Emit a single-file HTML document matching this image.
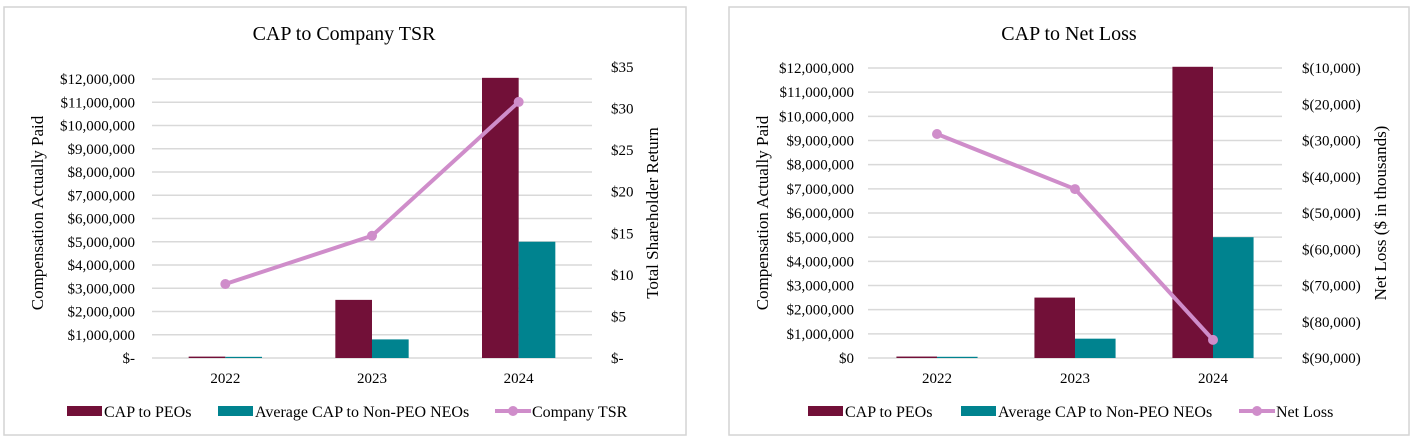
<!DOCTYPE html>
<html><head><meta charset="utf-8"><style>
html,body{margin:0;padding:0;background:#fff;}
svg{display:block;font-family:"Liberation Serif",serif;}
</style></head><body>
<svg id="root" width="1418" height="443" viewBox="0 0 1418 443"></svg>
<script>
const categories = ["2022","2023","2024"];
const peoValues = [60000, 2500000, 12050000];
const neoValues = [50000, 800000, 5000000];
const tsrValues = [8.9, 14.7, 30.8];
const netLossValues = [-28200, -43400, -85000];
const leftTicks = [0,1,2,3,4,5,6,7,8,9,10,11,12].map(v=>v*1000000);
const leftTickLabelsA = ["$-","$1,000,000","$2,000,000","$3,000,000","$4,000,000","$5,000,000","$6,000,000","$7,000,000","$8,000,000","$9,000,000","$10,000,000","$11,000,000","$12,000,000"];
const leftTickLabelsB = ["$0","$1,000,000","$2,000,000","$3,000,000","$4,000,000","$5,000,000","$6,000,000","$7,000,000","$8,000,000","$9,000,000","$10,000,000","$11,000,000","$12,000,000"];
const tsrTicks = [0,5,10,15,20,25,30,35];
const tsrTickLabels = ["$-","$5","$10","$15","$20","$25","$30","$35"];
const lossTicks = [-90000,-80000,-70000,-60000,-50000,-40000,-30000,-20000,-10000];
const lossTickLabels = ["$(90,000)","$(80,000)","$(70,000)","$(60,000)","$(50,000)","$(40,000)","$(30,000)","$(20,000)","$(10,000)"];

const NS="http://www.w3.org/2000/svg";
const root=document.getElementById('root');
function mk(tag,attrs,parent,text){const e=document.createElementNS(NS,tag);for(const k in attrs)e.setAttribute(k,attrs[k]);if(text!==undefined)e.textContent=text;(parent||root).appendChild(e);return e;}

const MAROON="#721038", TEAL="#00838f", LINE="#cf8dca";

function drawChart(cfg){
  const g=mk('g',{});
  
  
  const b=mk('rect',{x:cfg.bx,y:7,width:cfg.bw,height:428,fill:'#fff',stroke:'#d4d4d4','stroke-width':1.5},g);
  
  const t=mk('text',{x:cfg.titleX,y:40,'text-anchor':'middle','font-size':20,fill:'#000'},g,cfg.title);
  
  const y0=358, yTop=cfg.yTop;
  const yL=v=>y0-(v/12000000)*(y0-yTop);
  const yR=cfg.yR;
  const catW=(cfg.px1-cfg.px0)/categories.length;
  const xC=i=>cfg.px0+catW*(i+0.5);
  leftTicks.forEach((v,i)=>{
    const l=mk('line',{x1:cfg.px0,x2:cfg.px1,y1:yL(v),y2:yL(v),stroke:'#d9d9d9','stroke-width':1.5},g);
    
    const tx=mk('text',{x:cfg.lx,y:yL(v)+5,'text-anchor':'end','font-size':15,fill:'#000'},g,cfg.leftLabels[i]);
    
  });
  cfg.rTicks.forEach((v,i)=>{
    const tx=mk('text',{x:cfg.rx,y:yR(v)+5,'text-anchor':'start','font-size':15,fill:'#000'},g,cfg.rLabels[i]);
    
  });
  const bw=catW*cfg.barFrac;
  categories.forEach((c,i)=>{
    const p=mk('rect',{x:xC(i)-bw,y:yL(peoValues[i]),width:bw,height:y0-yL(peoValues[i]),fill:MAROON},g);
    
    const n=mk('rect',{x:xC(i),y:yL(neoValues[i]),width:bw,height:y0-yL(neoValues[i]),fill:TEAL},g);
    
    const tx=mk('text',{x:xC(i),y:383,'text-anchor':'middle','font-size':15,fill:'#000'},g,c);
    
  });
  const pts=cfg.line.map((v,i)=>xC(i)+','+yR(v)).join(' ');
  const pl=mk('polyline',{points:pts,fill:'none',stroke:LINE,'stroke-width':4,'stroke-linejoin':'round'},g);
  
  cfg.line.forEach((v,i)=>{
    const c=mk('circle',{cx:xC(i),cy:yR(v),r:5,fill:LINE},g);
    
  });
  const lt=mk('text',{x:cfg.ltX,y:213,'text-anchor':'middle','font-size':17,fill:'#000',transform:`rotate(-90 ${cfg.ltX} 213)`},g,'Compensation Actually Paid');
  
  const rt=mk('text',{x:cfg.rtX,y:213,'text-anchor':'middle','font-size':17,fill:'#000',transform:`rotate(-90 ${cfg.rtX} 213)`},g,cfg.rTitle);
  
  const L=cfg.leg;
  const s1=mk('rect',{x:L[0],y:406,width:35,height:10,fill:MAROON},g);
  
  const t1=mk('text',{x:L[0]+37,y:417,'font-size':16},g,'CAP to PEOs');
  
  const s2=mk('rect',{x:L[1],y:406,width:35,height:10,fill:TEAL},g);
  
  const t2=mk('text',{x:L[1]+37,y:417,'font-size':16},g,'Average CAP to Non-PEO NEOs');
  
  const s3=mk('line',{x1:L[2],x2:L[2]+36,y1:411,y2:411,stroke:LINE,'stroke-width':4},g);
  
  const s3c=mk('circle',{cx:L[2]+18,cy:411,r:5,fill:LINE},g);
  
  const t3=mk('text',{x:L[2]+37,y:417,'font-size':16},g,cfg.lineName);
  
}

drawChart({name:'chart-cap-tsr',bx:4,bw:682,title:'CAP to Company TSR',titleX:344,yTop:79,
  px0:152,px1:592,lx:135,rx:611,barFrac:0.25,leftLabels:leftTickLabelsA,
  rTicks:tsrTicks,rLabels:tsrTickLabels,yR:v=>358-(v/35)*(358-67),line:tsrValues,
  ltX:43,rtX:658,rTitle:'Total Shareholder Return',leg:[67,218,495],lineName:'Company TSR'});

drawChart({name:'chart-cap-net-loss',bx:729,bw:680,title:'CAP to Net Loss',titleX:1069,yTop:68,
  px0:868,px1:1282,lx:854,rx:1302,barFrac:0.294,leftLabels:leftTickLabelsB,
  rTicks:lossTicks,rLabels:lossTickLabels,yR:v=>358-((v+90000)/80000)*(358-68),line:netLossValues,
  ltX:768,rtX:1386,rTitle:'Net Loss ($ in thousands)',leg:[808,961,1239],lineName:'Net Loss'});
</script>
</body></html>
